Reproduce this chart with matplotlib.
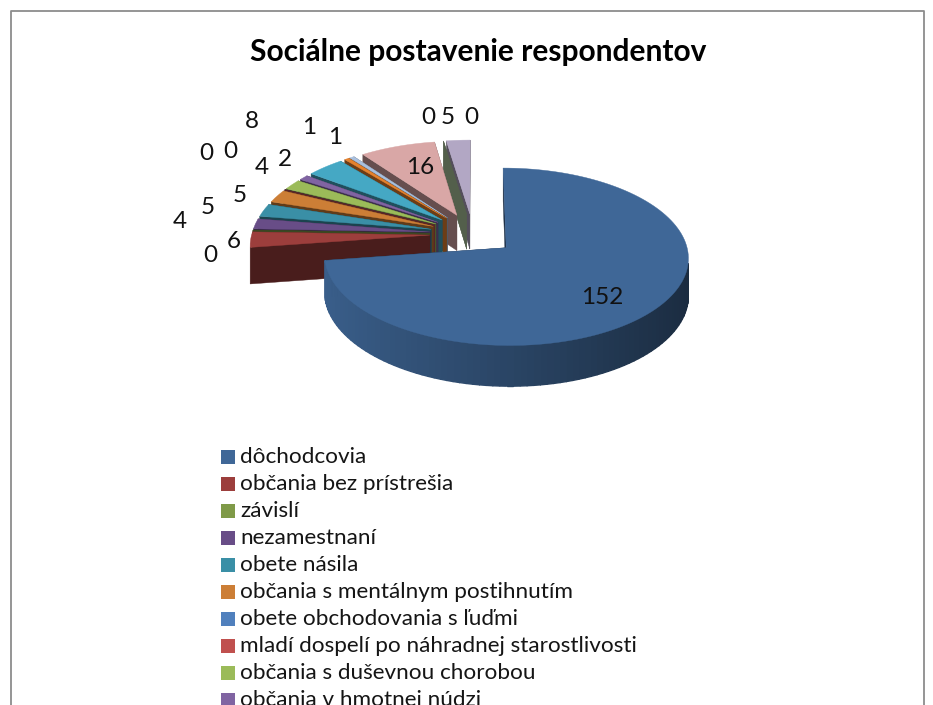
import numpy as np
import matplotlib
matplotlib.use("Agg")
import matplotlib.pyplot as plt

title = "Sociálne postavenie respondentov"
values = [152, 6, 0, 4, 5, 5, 0, 0, 4, 2, 8, 1, 1, 16, 0, 5, 0]
colors = ["#3F6797", "#9C3E3C", "#7F9A48", "#684D87", "#3A8FA6", "#CC7E36",
          "#5080BD", "#C0504E", "#9BBB59", "#8064A2", "#45A8C4", "#E5822E",
          "#A9C0DE", "#D9A7A6", "#B0CBA0", "#B2A7C4", "#A8B8D0"]
legend_labels = ["dôchodcovia", "občania bez prístrešia", "závislí", "nezamestnaní",
                 "obete násila", "občania s mentálnym postihnutím",
                 "obete obchodovania s ľuďmi",
                 "mladí dospelí po náhradnej starostlivosti",
                 "občania s duševnou chorobou", "občania v hmotnej núdzi"]

# where the data labels sit, same order as values
label_x = [602, 234, 210, 180, 208, 240, 206, 230, 262, 285, 252, 309, 335, 420, 428, 448, 471]
label_y = [298, 242, 255, 222, 208, 195, 154, 152, 167, 160, 122, 128, 138, 168, 118, 118, 117]

# fake 3d pie settings, in pixels
cx, cy = 473, 234
rx, ry = 178, 85
persp = 0.10
explode = 0.243
depth = 36

plt.rcParams["font.family"] = ["Lato", "DejaVu Sans"]

fig = plt.figure(figsize=(9.33, 7.05), dpi=100)
ax = fig.add_axes([0, 0, 1, 1])
ax.set_xlim(0, 933)
ax.set_ylim(705, 0)
ax.axis("off")


def project(u, v, down=0.0):
    s = 1 / (1 - persp * v)
    return cx + rx * u * s, cy + ry * v * s + down * s


def shade(col, f):
    return tuple(np.clip(np.array(matplotlib.colors.to_rgb(col)) * f, 0, 1))


total = sum(values)
angles = np.cumsum([0] + values) / total * 2 * np.pi

slices = []
for i, val in enumerate(values):
    a0, a1 = angles[i], angles[i + 1]
    mid = (a0 + a1) / 2
    ou, ov = explode * np.sin(mid), -explode * np.cos(mid)
    slices.append((ov, i, a0, a1, ou))

# back to front so nearer slices cover the others
for ov, i, a0, a1, ou in sorted(slices, key=lambda t: t[0]):
    col = colors[i]
    # the trailing zero slice does not show in the original
    if i == len(values) - 1:
        continue
    th = np.linspace(a0, a1, max(2, int((a1 - a0) * 30)))
    us = ou + np.sin(th)
    vs = ov - np.cos(th)

    # cut walls
    for a in (a0, a1):
        u1, v1 = ou + np.sin(a), ov - np.cos(a)
        p = [project(ou, ov), project(u1, v1), project(u1, v1, depth), project(ou, ov, depth)]
        ax.fill(*zip(*p), color=shade(col, 0.47), lw=0.3)

    # outer rim, split in strips to get the shading
    for k in range(len(th) - 1):
        if np.cos(th[k]) > -0.145:
            continue
        f = 0.67 - 0.25 * np.sin(th[k])
        p = [project(us[k], vs[k]), project(us[k + 1], vs[k + 1]),
             project(us[k + 1], vs[k + 1], depth), project(us[k], vs[k], depth)]
        ax.fill(*zip(*p), color=shade(col, f), lw=1.0)

    # top face
    if a1 > a0:
        xs, ys = project(us, vs)
        ax_x = np.r_[project(ou, ov)[0], xs]
        ax_y = np.r_[project(ou, ov)[1], ys]
        ax.fill(ax_x, ax_y, color=col, lw=0.3)

# data labels
for x, y, val in zip(label_x, label_y, values):
    ax.text(x, y, str(val), fontsize=17.5, color="#111111", ha="center", va="center")

ax.text(478, 52, title, fontsize=21.5, fontweight="bold", color="black", ha="center", va="center")

# legend, runs off the bottom of the page
for i, name in enumerate(legend_labels):
    y = 457 + 27 * i
    ax.add_patch(plt.Rectangle((221, y - 7), 14, 14, color=colors[i], lw=0))
    ax.text(240, y, name, fontsize=16.2, color="#151515", ha="left", va="center")

# chart frame
ax.plot([10.5, 10.5, 923.5, 923.5], [705, 11, 11, 705], color="#8C8C8C", lw=1.3, clip_on=False)

fig.savefig("out.png", dpi=100)
